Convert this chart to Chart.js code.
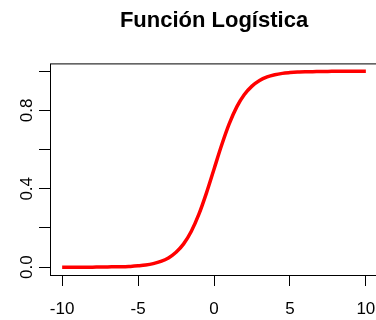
<!DOCTYPE html>
<html>
<head>
<meta charset="utf-8">
<script src="https://cdn.jsdelivr.net/npm/chart.js@4"></script>
<style>
    html, body { margin: 0; padding: 0; background: #fff; overflow: hidden; }
</style>
</head>
<body>
<canvas id="logChart" width="382" height="320"></canvas>
<script>
// Chart data
const xValues = [-10, -9.5, -9, -8.5, -8, -7.5, -7, -6.5, -6, -5.5, -5, -4.5, -4, -3.5, -3, -2.5, -2, -1.5, -1, -0.5,
    0, 0.5, 1, 1.5, 2, 2.5, 3, 3.5, 4, 4.5, 5, 5.5, 6, 6.5, 7, 7.5, 8, 8.5, 9, 9.5, 10];
const yValues = [0.000, 0.000, 0.000, 0.000, 0.000, 0.001, 0.001, 0.002, 0.002, 0.004, 0.007, 0.011, 0.018, 0.029, 0.047, 0.076, 0.119, 0.182, 0.269, 0.378,
    0.500, 0.622, 0.731, 0.818, 0.881, 0.924, 0.953, 0.971, 0.982, 0.989, 0.993, 0.996, 0.998, 0.998, 0.999, 0.999, 1.000, 1.000, 1.000, 1.000, 1.000];
const xTicks = [-10, -5, 0, 5, 10];
const xLabels = ['-10', '-5', '0', '5', '10'];
const yTicks = [0, 0.2, 0.4, 0.6, 0.8, 1.0];
const yLabels = ['0.0', '', '0.4', '', '0.8', ''];

const FONT = 'Liberation Sans, Arial, sans-serif';

// Draw the box around the plot region
const boxPlugin = {
    id: 'box',
    afterDraw(chart) {
        const a = chart.chartArea;
        const ctx = chart.ctx;
        ctx.save();
        ctx.strokeStyle = '#000';
        ctx.lineWidth = 1;
        ctx.strokeRect(a.left + 0.5, a.top + 0.5, a.right - a.left, a.bottom - a.top);
        ctx.restore();
    }
};

function createChart() {
    const ctx = document.getElementById('logChart').getContext('2d');
    new Chart(ctx, {
        type: 'line',
        data: {
            datasets: [{
                data: xValues.map((x, i) => ({ x: x, y: yValues[i] })),
                borderColor: '#ff0000',
                borderWidth: 3.5,
                pointRadius: 0,
                cubicInterpolationMode: 'monotone',
                fill: false
            }]
        },
        options: {
            responsive: false,
            animation: false,
            layout: { padding: { left: 0, right: 4, top: 0, bottom: 0 } },
            plugins: {
                legend: { display: false },
                tooltip: { enabled: false },
                title: {
                    display: true,
                    text: 'Función Logística',
                    fullSize: false,
                    color: '#000',
                    font: { family: FONT, size: 22, weight: 'bold' },
                    padding: { top: 8, bottom: 29 }
                }
            },
            scales: {
                x: {
                    type: 'linear',
                    min: -10.8,
                    max: 10.8,
                    afterBuildTicks: s => { s.ticks = xTicks.map(v => ({ value: v })); },
                    afterFit: s => { s.height = 45; s.paddingLeft = 0; s.paddingRight = 0; },
                    grid: { display: true, drawOnChartArea: false, drawTicks: true, tickLength: 11, color: '#000' },
                    border: { display: false },
                    ticks: {
                        color: '#000',
                        font: { family: FONT, size: 17 },
                        padding: 13,
                        maxRotation: 0,
                        callback: (v, i) => xLabels[i]
                    }
                },
                y: {
                    min: -0.04,
                    max: 1.04,
                    afterBuildTicks: s => { s.ticks = yTicks.map(v => ({ value: v })); },
                    afterFit: s => { s.width = 50; s.paddingTop = 0; s.paddingBottom = 0; },
                    grid: { display: true, drawOnChartArea: false, drawTicks: true, tickLength: 11, color: '#000' },
                    border: { display: false },
                    ticks: {
                        color: '#000',
                        font: { family: FONT, size: 17 },
                        padding: 0,
                        minRotation: 90,
                        maxRotation: 90,
                        crossAlign: 'center',
                        callback: (v, i) => yLabels[i]
                    }
                }
            }
        },
        plugins: [boxPlugin]
    });
}

document.addEventListener('DOMContentLoaded', createChart);
</script>
</body>
</html>
